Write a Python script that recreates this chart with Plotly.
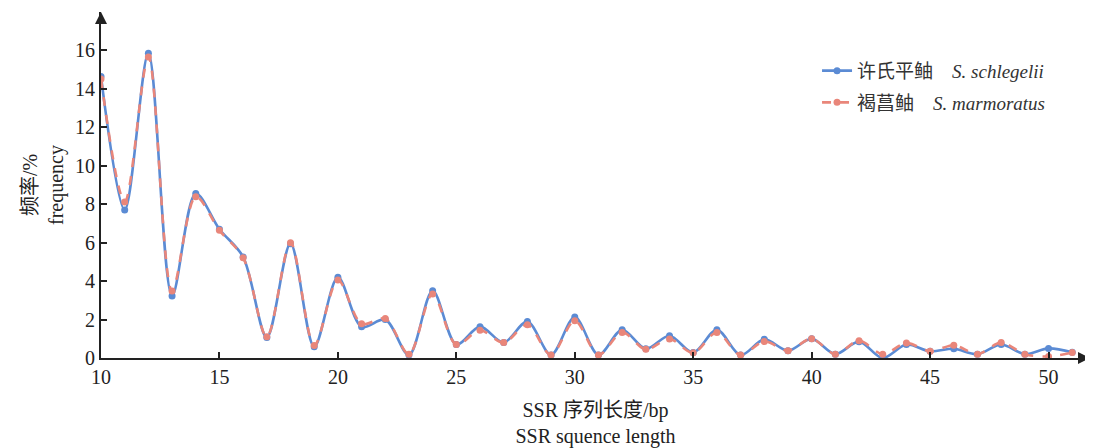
import plotly.graph_objects as go

lengths = list(range(10, 52))
schlegelii = [14.65, 7.7, 15.86, 3.23, 8.56, 6.7, 5.26, 1.07, 5.95, 0.58,
              4.2, 1.62, 2.0, 0.15, 3.5, 0.7, 1.63, 0.8, 1.9, 0.16,
              2.13, 0.16, 1.47, 0.48, 1.16, 0.28, 1.47, 0.15, 0.97, 0.38,
              1.0, 0.2, 0.85, 0.0, 0.7, 0.35, 0.48, 0.2, 0.7, 0.2,
              0.5, 0.3]
marmoratus = [14.52, 8.12, 15.66, 3.49, 8.39, 6.64, 5.22, 1.1, 6.0, 0.65,
              4.06, 1.78, 2.05, 0.2, 3.33, 0.7, 1.44, 0.8, 1.73, 0.16,
              1.94, 0.16, 1.33, 0.45, 0.99, 0.27, 1.33, 0.15, 0.86, 0.38,
              1.0, 0.2, 0.9, 0.2, 0.78, 0.35, 0.66, 0.2, 0.8, 0.2,
              0.08, 0.28]
y_ticks = [0, 2, 4, 6, 8, 10, 12, 14, 16]
x_ticks = [10, 15, 20, 25, 30, 35, 40, 45, 50]

name_a = "许氏平鲉&nbsp;&nbsp;&nbsp;&nbsp;<i>S. schlegelii</i>"
name_b = "褐菖鲉&nbsp;&nbsp;&nbsp;&nbsp;<i>S. marmoratus</i>"

blue = "#5b8bd4"
red = "#e9867a"
font_fam = "Liberation Serif, Times New Roman, Noto Sans CJK SC, serif"

fig = go.Figure()
fig.add_trace(go.Scatter(
    x=lengths, y=schlegelii, name=name_a, mode="lines+markers",
    line=dict(color=blue, width=2.6, shape="spline", smoothing=0.9),
    marker=dict(color=blue, size=7), legendgroup="a"))
fig.add_trace(go.Scatter(
    x=lengths, y=marmoratus, name=name_b, mode="lines+markers",
    line=dict(color=red, width=2.6, dash="dash", shape="spline", smoothing=0.9),
    marker=dict(color=red, size=7), legendgroup="b"))

fig.update_layout(
    width=1085, height=440,
    margin=dict(l=93, r=3, t=4, b=90, autoexpand=False),
    paper_bgcolor="white", plot_bgcolor="white",
    font=dict(family=font_fam, size=20, color="#222222"),
    showlegend=True,
    legend=dict(x=0.724, y=0.885, xanchor="left", yanchor="top",
                font=dict(size=19, family=font_fam, color="#333333"),
                bgcolor="rgba(0,0,0,0)", tracegroupgap=4,
                itemwidth=30),
    xaxis=dict(range=[10, 51.75], tickvals=x_ticks, ticks="inside", ticklen=6,
               tickwidth=1.5, tickcolor="#222222", showline=True,
               linecolor="#222222", linewidth=2, showgrid=False, zeroline=False,
               automargin=False,
               title=dict(text="SSR 序列长度/bp<br>SSR squence length",
                          font=dict(size=20), standoff=16)),
    yaxis=dict(range=[0, 18], tickvals=y_ticks, ticks="inside", ticklen=6,
               tickwidth=1.5, tickcolor="#222222", showline=True,
               linecolor="#222222", linewidth=2, showgrid=False, zeroline=False,
               automargin=False,
               title=dict(text="频率/%<br>frequency", font=dict(size=20),
                          standoff=6)),
)

# axis arrow heads
fig.add_annotation(x=0, y=1.0, xref="paper", yref="paper", ax=0, ay=12,
                   showarrow=True, arrowhead=2, arrowsize=1.2, arrowwidth=2,
                   arrowcolor="#222222", text="")
fig.add_annotation(x=1.0, y=0, xref="paper", yref="paper", ax=-12, ay=0,
                   showarrow=True, arrowhead=2, arrowsize=1.2, arrowwidth=2,
                   arrowcolor="#222222", text="")

fig.write_html("out.html")
